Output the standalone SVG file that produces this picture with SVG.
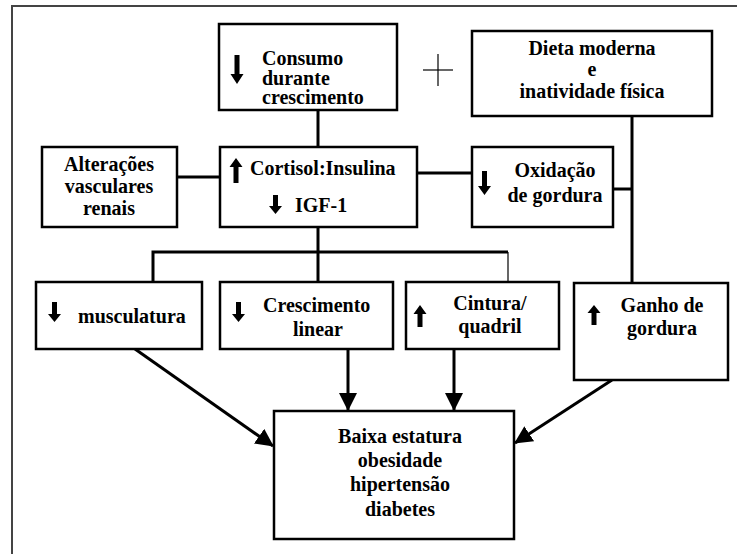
<svg xmlns="http://www.w3.org/2000/svg" width="737" height="554" viewBox="0 0 737 554">
<style>
.box{fill:#fff;stroke:#000;stroke-width:2.5}
.t{font-weight:bold;font-size:20px;fill:#000}
.c{text-anchor:middle}
.ln{stroke:#000;stroke-width:3;fill:none}
.thin{stroke:#000;stroke-width:1.2;fill:none}
.ar{fill:#000}
</style>
<defs>
<marker id="ah" markerWidth="18" markerHeight="18" refX="17" refY="9" orient="auto" markerUnits="userSpaceOnUse">
<path d="M0,0 L18,9 L0,18 z" fill="#000"/>
</marker>
</defs>
<rect width="737" height="554" fill="#fff"/>
<path d="M12,554 V6 H737" fill="none" stroke="#444" stroke-width="2"/>

<g id="connectors">
<line class="ln" x1="318" y1="110" x2="318" y2="147"/>
<line class="ln" x1="632" y1="116" x2="632" y2="283"/>
<line class="ln" x1="177" y1="177" x2="220" y2="177"/>
<line class="ln" x1="417" y1="173" x2="472" y2="173"/>
<line class="ln" x1="613" y1="189" x2="632" y2="189"/>
<line class="ln" x1="318" y1="227" x2="318" y2="282"/>
<polyline class="ln" points="153,282 153,252 508,252"/>
<line class="thin" x1="508" y1="252" x2="508" y2="282"/>
<line class="ln" x1="135" y1="349" x2="273" y2="446" marker-end="url(#ah)"/>
<line class="ln" x1="348" y1="349" x2="348" y2="410" marker-end="url(#ah)"/>
<line class="ln" x1="454" y1="349" x2="454" y2="410" marker-end="url(#ah)"/>
<line class="ln" x1="612" y1="380" x2="515" y2="443" marker-end="url(#ah)"/>
<line class="thin" x1="423" y1="70" x2="453" y2="70"/>
<line class="thin" x1="438" y1="54" x2="438" y2="86"/>
</g>

<g font-family="'Liberation Serif', 'Times New Roman', Tinos, 'DejaVu Serif', serif">
<g id="consumo">
<rect class="box" x="219" y="24" width="178" height="86"/>
<path class="ar" d="M234.5,55 h5 v19 h4 l-6.5,10 l-6.5,-10 h4 z"/>
<text class="t" x="262" y="65">Consumo</text>
<text class="t" x="262" y="85">durante</text>
<text class="t" x="262" y="104">crescimento</text>
</g>

<g id="dieta">
<rect class="box" x="472" y="31" width="240" height="85"/>
<text class="t c" x="592" y="55">Dieta moderna</text>
<text class="t c" x="592" y="76">e</text>
<text class="t c" x="592" y="98">inatividade física</text>
</g>

<g id="alteracoes">
<rect class="box" x="42" y="147" width="135" height="80"/>
<text class="t c" x="109" y="171">Alterações</text>
<text class="t c" x="109" y="193">vasculares</text>
<text class="t c" x="109" y="215">renais</text>
</g>

<g id="cortisol">
<rect class="box" x="220" y="147" width="197" height="80"/>
<path class="ar" d="M233.5,183 h5 v-16 h4 l-6.5,-9 l-6.5,9 h4 z"/>
<text class="t" x="250" y="175">Cortisol:Insulina</text>
<path class="ar" d="M273,195 h5 v11 h4 l-6.5,8 l-6.5,-8 h4 z"/>
<text class="t" x="295" y="212">IGF-1</text>
</g>

<g id="oxidacao">
<rect class="box" x="472" y="147" width="141" height="80"/>
<path class="ar" d="M482,171 h5 v15 h4 l-6.5,9 l-6.5,-9 h4 z"/>
<text class="t c" x="555" y="177">Oxidação</text>
<text class="t c" x="555" y="202">de gordura</text>
</g>

<g id="musculatura">
<rect class="box" x="36" y="282" width="166" height="67"/>
<path class="ar" d="M52,302 h5 v12 h4 l-6.5,8 l-6.5,-8 h4 z"/>
<text class="t" x="78" y="323">musculatura</text>
</g>

<g id="crescimento">
<rect class="box" x="220" y="282" width="173" height="67"/>
<path class="ar" d="M236,302 h5 v12 h4 l-6.5,8 l-6.5,-8 h4 z"/>
<text class="t" x="263" y="312">Crescimento</text>
<text class="t c" x="318" y="336">linear</text>
</g>

<g id="cintura">
<rect class="box" x="406" y="282" width="153" height="67"/>
<path class="ar" d="M417.5,327 h5 v-13 h4 l-6.5,-9 l-6.5,9 h4 z"/>
<text class="t c" x="490" y="310">Cintura/</text>
<text class="t c" x="490" y="333">quadril</text>
</g>

<g id="ganho">
<rect class="box" x="574" y="283" width="154" height="97"/>
<path class="ar" d="M591.5,325 h5 v-12 h4 l-6.5,-8 l-6.5,8 h4 z"/>
<text class="t c" x="662" y="312">Ganho de</text>
<text class="t c" x="662" y="335">gordura</text>
</g>

<g id="desfecho">
<rect class="box" x="274" y="411" width="240" height="128"/>
<text class="t c" x="400" y="443">Baixa estatura</text>
<text class="t c" x="400" y="467">obesidade</text>
<text class="t c" x="400" y="491">hipertensão</text>
<text class="t c" x="400" y="516">diabetes</text>
</g>
</g>
</svg>
